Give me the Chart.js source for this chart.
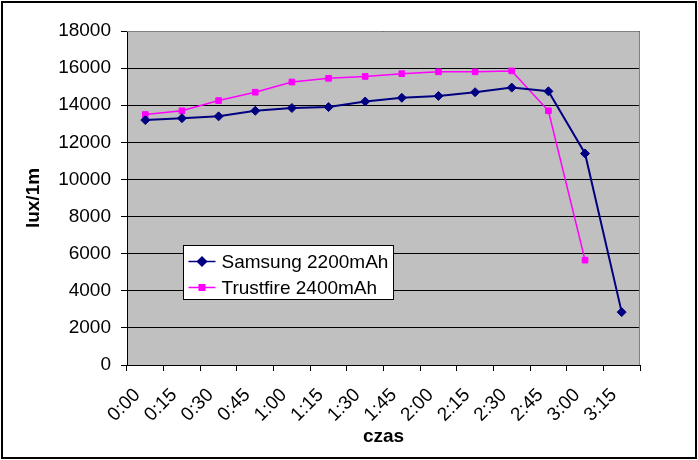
<!DOCTYPE html>
<html>
<head>
<meta charset="utf-8">
<script src="https://cdn.jsdelivr.net/npm/chart.js@4/dist/chart.umd.min.js"></script>
<style>
  html, body { margin: 0; padding: 0; background: #fff; }
  #wrap { width: 698px; height: 460px; position: relative; }
</style>
</head>
<body>
<div id="wrap"><canvas id="chart" width="698" height="460"></canvas></div>
<script>
// Données
const categories = ['0:00', '0:15', '0:30', '0:45', '1:00', '1:15', '1:30', '1:45', '2:00', '2:15', '2:30', '2:45', '3:00', '3:15'];
const samsung = [13200, 13300, 13400, 13700, 13850, 13900, 14200, 14400, 14500, 14700, 14950, 14750, 11400, 2850];
const trustfire = [13500, 13700, 14250, 14700, 15250, 15450, 15550, 15700, 15800, 15800, 15850, 13700, 5650, null];
const yTicks = [0, 2000, 4000, 6000, 8000, 10000, 12000, 14000, 16000, 18000];

const FONT = 'Liberation Sans, Arial, sans-serif';

// Fond gris + bordure de la zone de tracé, cadre extérieur, légende
const excelLook = {
  id: 'excelLook',
  beforeDraw(chart) {
    const { ctx, chartArea: a } = chart;
    ctx.save();
    ctx.fillStyle = '#C0C0C0';
    ctx.fillRect(a.left, a.top, a.right - a.left, a.bottom - a.top);
    ctx.restore();
  },
  beforeDatasetsDraw(chart) {
    const { ctx, chartArea: a } = chart;
    ctx.save();
    ctx.strokeStyle = '#808080';
    ctx.lineWidth = 1;
    ctx.beginPath();
    ctx.moveTo(a.left, a.top + 0.5);
    ctx.lineTo(a.right - 0.5, a.top + 0.5);
    ctx.lineTo(a.right - 0.5, a.bottom);
    ctx.stroke();
    ctx.restore();
  },
  afterDraw(chart) {
    const { ctx } = chart;
    ctx.save();
    ctx.strokeStyle = '#000';
    ctx.lineWidth = 2;
    ctx.strokeRect(2, 2, 694, 456);

    // légende dans la zone de tracé
    const x = 183.5, y = 245.5, w = 210, h = 54;
    ctx.fillStyle = '#fff';
    ctx.fillRect(x, y, w, h);
    ctx.strokeStyle = '#000';
    ctx.lineWidth = 1;
    ctx.strokeRect(x, y, w, h);
    ctx.font = '19px ' + FONT;
    ctx.textBaseline = 'middle';
    chart.data.datasets.forEach((ds, i) => {
      const cy = y + 16 + i * 26;
      ctx.strokeStyle = ds.borderColor;
      ctx.lineWidth = 1.5;
      ctx.beginPath();
      ctx.moveTo(x + 5, cy);
      ctx.lineTo(x + 32, cy);
      ctx.stroke();
      ctx.fillStyle = ds.borderColor;
      Chart.helpers.drawPoint(ctx, {
        pointStyle: ds.pointStyle,
        radius: ds.pointRadius,
        borderWidth: 1
      }, x + 18.5, cy);
      ctx.fillStyle = '#000';
      ctx.fillText(ds.label, x + 38, cy + 1);
    });
    ctx.restore();
  }
};

new Chart(document.getElementById('chart'), {
  type: 'line',
  data: {
    labels: categories,
    datasets: [
      {
        label: 'Samsung 2200mAh',
        data: samsung,
        borderColor: '#000080',
        backgroundColor: '#000080',
        borderWidth: 2,
        pointStyle: 'rectRot',
        pointRadius: 4.5,
        pointBorderWidth: 1,
        tension: 0
      },
      {
        label: 'Trustfire 2400mAh',
        data: trustfire,
        borderColor: '#FF00FF',
        backgroundColor: '#FF00FF',
        borderWidth: 1.5,
        pointStyle: 'rect',
        pointRadius: 4,
        pointBorderWidth: 1,
        tension: 0
      }
    ]
  },
  options: {
    responsive: false,
    animation: false,
    devicePixelRatio: 1,
    layout: { padding: { left: 0, top: 31, right: 58, bottom: 0 } },
    plugins: { legend: { display: false }, tooltip: { enabled: false } },
    scales: {
      x: {
        type: 'category',
        offset: true,
        afterFit(scale) { scale.height = 95; },
        grid: { offset: true, drawOnChartArea: false, color: '#000', tickLength: 6, tickColor: '#000' },
        border: { color: '#000', width: 1 },
        ticks: {
          color: '#000',
          font: { family: FONT, size: 19 },
          maxRotation: 45,
          minRotation: 45,
          autoSkip: false,
          padding: 13,
          labelOffset: -8
        },
        title: {
          display: true,
          text: 'czas',
          color: '#000',
          font: { family: FONT, size: 19, weight: 'bold' },
          padding: { top: 0, bottom: 12 }
        }
      },
      y: {
        min: 0,
        max: 18000,
        afterFit(scale) { scale.width = 127; },
        afterBuildTicks(scale) { scale.ticks = yTicks.map(v => ({ value: v })); },
        grid: { color: '#000', tickLength: 6, tickColor: '#000', lineWidth: 1 },
        border: { color: '#000', width: 1 },
        ticks: {
          color: '#000',
          font: { family: FONT, size: 19 },
          padding: 10,
          callback: v => String(v)
        },
        title: {
          display: true,
          text: 'lux/1m',
          color: '#000',
          font: { family: FONT, size: 19, weight: 'bold' },
          padding: { top: 22, bottom: 0 }
        }
      }
    }
  },
  plugins: [excelLook]
});
</script>
</body>
</html>
